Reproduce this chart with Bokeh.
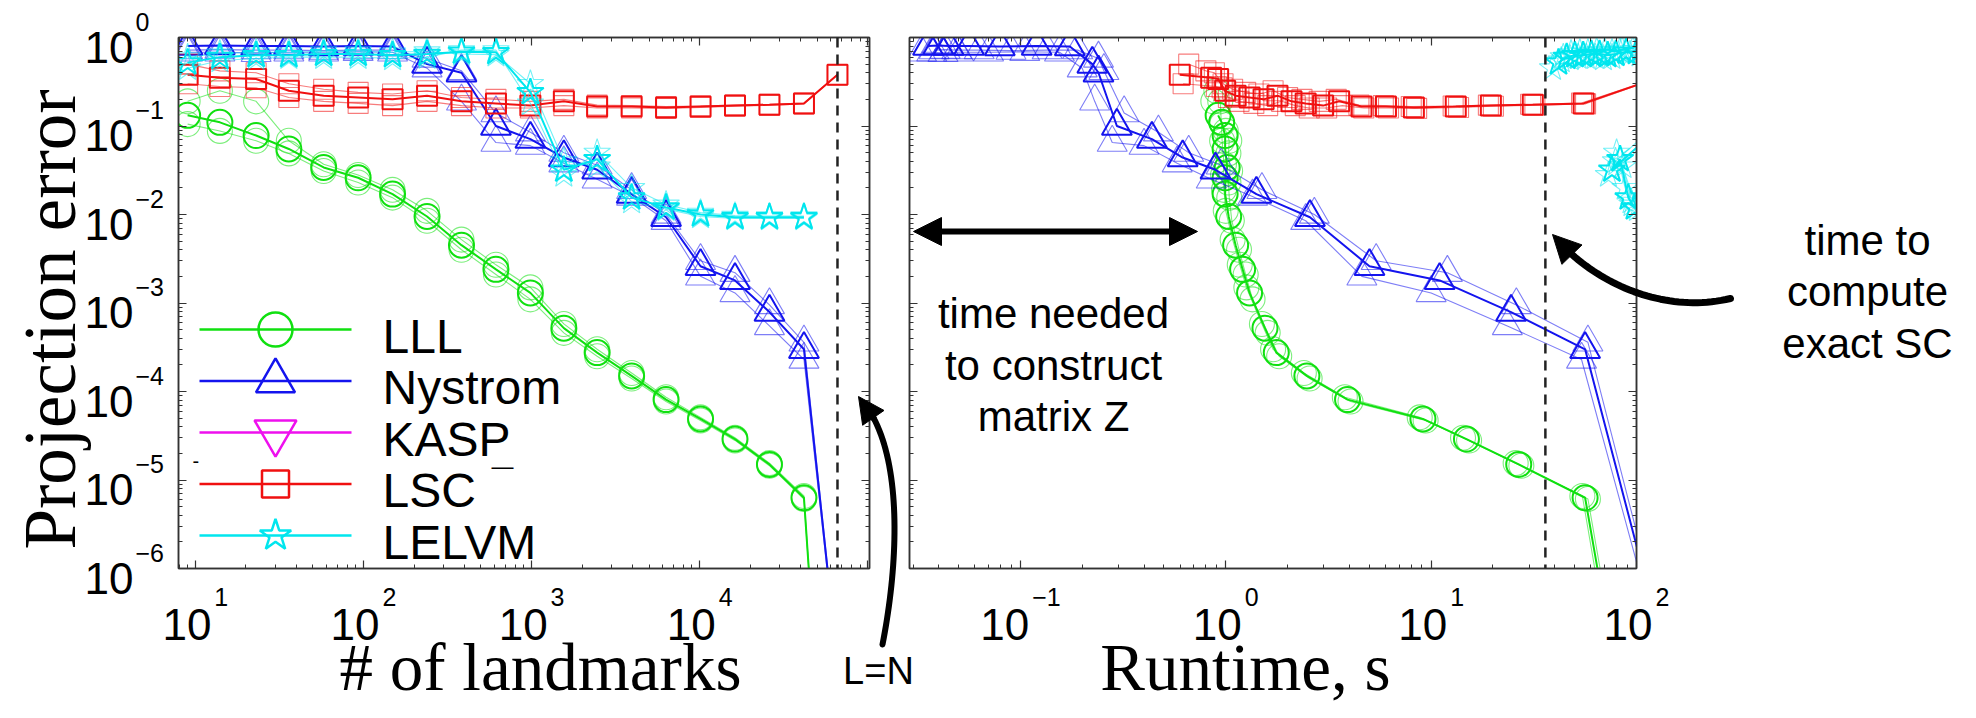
import numpy as np
from bokeh.plotting import figure
from bokeh.models import (Span, Label, Arrow, NormalHead, PolyAnnotation, LogAxis,
                          FixedTicker, CustomJSTickFormatter, GridBox, Range1d)
from bokeh.layouts import row
from bokeh.embed import file_html
from bokeh.resources import INLINE

# ---------------- data ----------------
landmarks = [9, 14, 23, 36, 58, 93, 149, 239, 383, 614, 984, 1556, 2455, 3936,
             6310, 10116, 16218, 26000, 41700]
lll_landmarks = landmarks + [52500]
nys_landmarks = landmarks + [74600]
lsc_landmarks = landmarks + [66000]
lel_landmarks = landmarks

N_points = 66000          # L = N
exact_sc_time = 36        # seconds

lll_err = [
    [0.132, 0.110, 0.078, 0.055, 0.034, 0.026, 0.017, 0.0095, 0.0045, 0.0024, 0.0013,
     5.2e-4, 2.75e-4, 1.5e-4, 8.1e-5, 4.9e-5, 2.9e-5, 1.5e-5, 6.3e-6, 1e-8],
    [0.19, 0.25, 0.19, 0.068, 0.037, 0.028, 0.019, 0.011, 0.0052, 0.0027, 0.0015,
     5.8e-4, 3.0e-4, 1.62e-4, 8.6e-5, 5.1e-5, 3.0e-5, 1.55e-5, 6.6e-6, 1e-8],
    [0.105, 0.088, 0.068, 0.049, 0.031, 0.023, 0.0155, 0.0085, 0.0040, 0.0021, 0.0011,
     4.6e-4, 2.5e-4, 1.4e-4, 7.7e-5, 4.7e-5, 2.8e-5, 1.45e-5, 6.1e-6, 1e-8],
]
lll_time = [
    [0.918, 0.955, 0.993, 0.993, 1.016, 0.993, 0.993, 1.033, 1.117, 1.208, 1.306,
     1.552, 1.762, 2.483, 3.917, 9.12, 14.86, 26.7, 56.2, 91.2],
    [0.87, 0.90, 0.94, 0.96, 0.98, 0.97, 0.98, 1.00, 1.08, 1.17, 1.26,
     1.50, 1.70, 2.40, 3.80, 8.80, 14.3, 25.8, 54.5, 88.0],
    [0.96, 1.00, 1.04, 1.03, 1.05, 1.03, 1.04, 1.07, 1.16, 1.25, 1.35,
     1.60, 1.82, 2.56, 4.05, 9.40, 15.3, 27.5, 58.0, 94.0],
]

nys_err = [
    [0.80, 0.81, 0.80, 0.80, 0.79, 0.80, 0.79, 0.50, 0.40, 0.10, 0.071, 0.044, 0.032,
     0.017, 0.0093, 0.0026, 0.0018, 7.9e-4, 3.0e-4, 1e-8],
    [0.68, 0.68, 0.67, 0.68, 0.68, 0.69, 0.68, 0.45, 0.19, 0.065, 0.060, 0.038, 0.025,
     0.016, 0.0085, 0.0020, 0.0013, 5.5e-4, 2.3e-4, 1e-8],
    [0.72, 0.73, 0.72, 0.72, 0.71, 0.72, 0.72, 0.58, 0.42, 0.14, 0.085, 0.050, 0.036,
     0.019, 0.0100, 0.0030, 0.0022, 9.5e-4, 3.6e-4, 1e-8],
]
nys_time = [
    [0.0355, 0.0398, 0.0447, 0.0562, 0.0794, 0.120, 0.174, 0.224, 0.240, 0.295, 0.437,
     0.617, 0.891, 1.41, 2.57, 5.01, 11.0, 24.5, 56.2, 180],
    [0.033, 0.037, 0.042, 0.050, 0.070, 0.105, 0.155, 0.200, 0.230, 0.280, 0.400,
     0.580, 0.850, 1.35, 2.45, 4.60, 10.0, 23.5, 54.0, 175],
    [0.038, 0.043, 0.049, 0.063, 0.090, 0.135, 0.190, 0.240, 0.255, 0.320, 0.470,
     0.660, 0.950, 1.50, 2.70, 5.40, 12.0, 26.0, 58.0, 185],
]

lsc_err = [
    [0.38, 0.35, 0.34, 0.25, 0.22, 0.21, 0.20, 0.22, 0.19, 0.18, 0.17, 0.19, 0.166,
     0.166, 0.162, 0.166, 0.170, 0.174, 0.180, 0.38],
    [0.50, 0.42, 0.40, 0.30, 0.26, 0.24, 0.23, 0.25, 0.21, 0.20, 0.19, 0.20, 0.172,
     0.170, 0.166, 0.168, 0.172, 0.176, 0.182, 0.38],
    [0.30, 0.28, 0.27, 0.21, 0.19, 0.18, 0.17, 0.19, 0.17, 0.16, 0.16, 0.17, 0.160,
     0.160, 0.158, 0.162, 0.167, 0.172, 0.178, 0.38],
]
lsc_time = [
    [0.597, 0.849, 0.918, 0.993, 1.117, 1.306, 1.528, 1.786, 2.089, 2.449, 2.979,
     3.565, 4.581, 6.026, 8.24, 13.18, 19.54, 31.26, 55.3, 141],
    [0.66, 0.80, 0.88, 0.97, 1.08, 1.25, 1.45, 1.70, 2.00, 2.35, 2.85,
     3.45, 4.45, 5.85, 8.00, 12.8, 19.0, 30.5, 54.0, 141],
    [0.62, 0.90, 0.96, 1.03, 1.16, 1.37, 1.60, 1.87, 2.18, 2.55, 3.10,
     3.70, 4.70, 6.20, 8.50, 13.6, 20.1, 32.0, 56.5, 141],
]

lel_err = [
    [0.52, 0.60, 0.63, 0.63, 0.65, 0.65, 0.63, 0.65, 0.69, 0.68, 0.24, 0.032, 0.042,
     0.0155, 0.012, 0.010, 0.0093, 0.0093, 0.0093],
    [0.45, 0.55, 0.58, 0.60, 0.60, 0.60, 0.58, 0.60, 0.72, 0.72, 0.18, 0.028, 0.050,
     0.020, 0.013, 0.0105, 0.0097, 0.0096, 0.0096],
    [0.60, 0.66, 0.68, 0.68, 0.70, 0.70, 0.68, 0.70, 0.65, 0.64, 0.30, 0.040, 0.035,
     0.014, 0.0115, 0.0095, 0.0090, 0.0090, 0.0090],
]
lel_time = [
    [41.7, 45.7, 50.1, 55.0, 60.3, 66.1, 72.4, 79.4, 89.1, 100, 200, 75.9, 83.2,
     91.2, 97.7, 126, 158, 200, 251],
    [39, 43, 47.5, 52, 57, 63, 69, 76, 85, 96, 190, 73, 80, 88, 95, 120, 150, 190, 240],
    [44, 48, 53, 58, 64, 70, 76, 83, 93, 104, 210, 79, 86, 94, 101, 130, 165, 210, 260],
]

legend_labels = ["LLL", "Nystrom", "KASP", "LSC", "LELVM"]
left_xtick_exps = ["1", "2", "3", "4"]
right_xtick_exps = ["\u22121", "0", "1", "2"]
ytick_exps = ["0", "\u22121", "\u22122", "\u22123", "\u22124", "\u22125", "\u22126"]

# ---------------- style ----------------
C_LLL = "#10e010"
C_NYS = "#1414ee"
C_KASP = "#ee10ee"
C_LSC = "#f01010"
C_LEL = "#00e6ee"
AX = "#333333"
SANS = "Liberation Sans"
SERIF = "Liberation Serif"

# page-pixel geometry of the two frames
FL0, FL1 = 186, 877
FR0, FR1 = 917, 1644
FT, FB = 45, 576
L_LOG = (0.9, 5.01)
R_LOG = (-1.54, 2.0)
H = 702
W_LEFT = FL1 - 8 + 20
W_RIGHT = 20 + (FR1 - FR0) + 321
W_ALL = W_LEFT + W_RIGHT
BASE_SHIFT = 0.22   # observed drop of the alphabetic baseline, as a share of font size


def decade_minors(lo, hi):
    out = []
    for e in range(lo, hi):
        for m in range(2, 10):
            out.append(m * 10.0 ** e)
    return out


def make_fig(width, xlog, bl, br):
    p = figure(width=width, height=H, x_axis_type="log", y_axis_type="log",
               x_range=(10 ** xlog[0], 10 ** xlog[1]), y_range=(1e-6, 1.0),
               output_backend="svg", toolbar_location=None,
               min_border_left=bl, min_border_right=br,
               min_border_top=FT - 8, min_border_bottom=H - (FB - 8))
    p.grid.visible = False
    p.outline_line_color = AX
    p.outline_line_width = 1.5
    p.background_fill_color = "white"
    p.border_fill_color = "white"
    return p


def style_axes(p, xt, yt):
    p.xaxis.ticker = xt
    p.yaxis.ticker = yt
    p.add_layout(LogAxis(ticker=xt), "above")
    p.add_layout(LogAxis(ticker=yt), "right")
    for ax in p.axis:
        ax.formatter = CustomJSTickFormatter(code="return '';")
        ax.major_label_standoff = 0
        ax.axis_line_color = AX
        ax.axis_line_width = 1.5
        ax.major_tick_line_color = AX
        ax.minor_tick_line_color = AX
        ax.major_tick_line_width = 1.2
        ax.minor_tick_line_width = 1
        ax.major_tick_in = 8
        ax.major_tick_out = 0
        ax.minor_tick_in = 4
        ax.minor_tick_out = 0


def draw_series(p, xs_runs, ys_runs, color, marker, size):
    n = len(ys_runs)
    for i in list(range(1, n)) + [0]:
        main = i == 0
        lw = 2.0 if main else 1.1
        a = 1.0 if main else 0.55
        xs = xs_runs[i] if isinstance(xs_runs[0], list) else xs_runs
        p.line(xs, ys_runs[i], line_color=color, line_width=lw, line_alpha=a)
        p.scatter(xs, ys_runs[i], marker=marker, size=size, fill_color=None,
                  line_color=color, line_width=lw, line_alpha=a)


ymajor = [10.0 ** e for e in range(-6, 1)]
yminor = decade_minors(-6, 0)

# ---------------- left figure ----------------
p1 = make_fig(W_LEFT, L_LOG, FL0 - 8, 20)
style_axes(p1, FixedTicker(ticks=[10.0 ** e for e in range(1, 6)], minor_ticks=decade_minors(0, 5)),
           FixedTicker(ticks=ymajor, minor_ticks=yminor))

draw_series(p1, lll_landmarks, lll_err, C_LLL, "circle", 25)
draw_series(p1, nys_landmarks, nys_err, C_NYS, "triangle", 30)
draw_series(p1, lsc_landmarks, lsc_err, C_LSC, "square", 20)
draw_series(p1, lel_landmarks, lel_err, C_LEL, "star", 28)

p1.add_layout(Span(location=N_points, dimension="height", line_dash="10 7",
                   line_width=2.5, line_color="#222222"))

# ---------------- right figure ----------------
p2 = make_fig(W_RIGHT, R_LOG, 20, W_RIGHT - 20 - (FR1 - FR0))
style_axes(p2, FixedTicker(ticks=[10.0 ** e for e in range(-1, 3)], minor_ticks=decade_minors(-2, 2)),
           FixedTicker(ticks=ymajor, minor_ticks=yminor))

draw_series(p2, lll_time, lll_err, C_LLL, "circle", 25)
draw_series(p2, nys_time, nys_err, C_NYS, "triangle", 30)
draw_series(p2, lsc_time, lsc_err, C_LSC, "square", 20)
draw_series(p2, lel_time, lel_err, C_LEL, "star", 28)

p2.add_layout(Span(location=exact_sc_time, dimension="height", line_dash="10 7",
                   line_width=2.5, line_color="#222222"))

# ---------------- transparent overlay for texts, legend and arrows ----------------
ov = figure(width=W_ALL, height=H, x_range=Range1d(0, W_ALL), y_range=Range1d(0, H),
            output_backend="svg", toolbar_location=None,
            x_axis_location=None, y_axis_location=None, min_border=0)
ov.grid.visible = False
ov.outline_line_color = None
ov.background_fill_color = None
ov.background_fill_alpha = 0
ov.border_fill_color = None
ov.border_fill_alpha = 0


def ox(X):
    return X - 8


def oy(Y):
    return H + 8 - Y


def olab(X, Y, text, size, font=SANS, align="left", angle=0.0):
    """Place text so that its baseline sits at page pixel (X, Y)."""
    if angle:
        X = X - BASE_SHIFT * size
    else:
        Y = Y - BASE_SHIFT * size
    ov.add_layout(Label(x=ox(X), y=oy(Y), text=text, text_font=font,
                        text_font_size=f"{size}px", text_align=align,
                        text_baseline="alphabetic", angle=angle, text_color="black"))


def cubic(P, t0=0.0, t1=1.0, n=40):
    t = np.linspace(t0, t1, n)
    (x0, y0), (x1, y1), (x2, y2), (x3, y3) = P
    x = (1 - t) ** 3 * x0 + 3 * (1 - t) ** 2 * t * x1 + 3 * (1 - t) * t ** 2 * x2 + t ** 3 * x3
    y = (1 - t) ** 3 * y0 + 3 * (1 - t) ** 2 * t * y1 + 3 * (1 - t) * t ** 2 * y2 + t ** 3 * y3
    return x, y


def curved_arrow(P, lw, head):
    x, y = cubic(P, 0.0, 0.9)
    xs = [ox(v) for v in x]
    ys = [oy(v) for v in y]
    ov.add_layout(PolyAnnotation(xs=xs + xs[::-1], ys=ys + ys[::-1], fill_alpha=0,
                                 line_color="black", line_alpha=1.0, line_width=lw,
                                 line_join="round"))
    xa, ya = cubic(P, 0.86, 1.0, 2)
    ov.add_layout(Arrow(end=NormalHead(size=head, fill_color="black", line_color="black"),
                        x_start=ox(xa[0]), y_start=oy(ya[0]), x_end=ox(xa[1]), y_end=oy(ya[1]),
                        line_width=lw, line_color="black"))


def xtick_labels(tick_px, exps):
    for X, ex in zip(tick_px, exps):
        wexp = 0.556 * 25 * len(ex.replace("\u2212", "")) + (0.584 * 25 if "\u2212" in ex else 0)
        total = 49 + 3 + wexp
        ten_right = X - total / 2 + 49
        olab(ten_right, 642, "10", 44, align="right")
        olab(ten_right + 3, 610, ex, 25, align="left")


left_tick_px = [FL0 + (k - L_LOG[0]) / (L_LOG[1] - L_LOG[0]) * (FL1 - FL0) for k in range(1, 5)]
right_tick_px = [FR0 + (k - R_LOG[0]) / (R_LOG[1] - R_LOG[0]) * (FR1 - FR0) for k in range(-1, 3)]
xtick_labels(left_tick_px, left_xtick_exps)
xtick_labels(right_tick_px, right_xtick_exps)
for k, ex in enumerate(ytick_exps):
    tY = FT + (FB - FT) / 6 * k
    olab(141, tY + 19.5, "10", 44, align="right")
    olab(143, tY - 10.5, ex, 25, align="left")

olab(74, 327, "Projection error", 73, font=SERIF, align="center", angle=np.pi / 2)
olab(548, 689, "# of landmarks", 67, font=SERIF, align="center")
olab(1253, 689, "Runtime, s", 67, font=SERIF, align="center")

# legend (inside the left frame)
leg_rows = [337, 388.5, 440, 491.5, 543]
for name, col, mk, sz, Yc in zip(legend_labels, [C_LLL, C_NYS, C_KASP, C_LSC, C_LEL],
                                 ["circle", "triangle", "inverted_triangle", "square", "star"],
                                 [34, 39, 42, 27, 33], leg_rows):
    ov.line(x=[ox(207), ox(359)], y=[oy(Yc), oy(Yc)], line_color=col, line_width=2.5)
    ov.scatter(x=[ox(283)], y=[oy(Yc)], marker=mk, size=sz, fill_color=None,
               line_color=col, line_width=2.5)
    olab(390, Yc + 17.5, name, 48)
olab(499, 479, "\u2014", 22)
olab(200, 473, "-", 20)

# L=N
curved_arrow([(890, 652), (908, 560), (910, 450), (866, 404)], 6, 26)
olab(886, 687, "L=N", 38, align="center")

# time needed to construct matrix Z
ov.add_layout(Arrow(start=NormalHead(size=28, fill_color="black", line_color="black"),
                    end=NormalHead(size=28, fill_color="black", line_color="black"),
                    x_start=ox(921), y_start=oy(239), x_end=ox(1205), y_end=oy(239),
                    line_width=6, line_color="black"))
for txt, Y in [("time needed", 330), ("to construct", 382), ("matrix Z", 433)]:
    olab(1061, Y, txt, 42, align="center")

# time to compute exact SC
curved_arrow([(1738, 306), (1670, 322), (1600, 290), (1560, 242)], 7, 28)
for txt, Y in [("time to", 257), ("compute", 308), ("exact SC", 360)]:
    olab(1875, Y, txt, 42, align="center")

layout = GridBox(children=[(row(p1, p2), 0, 0), (ov, 0, 0)])
open("out.html", "w").write(file_html(layout, INLINE))
